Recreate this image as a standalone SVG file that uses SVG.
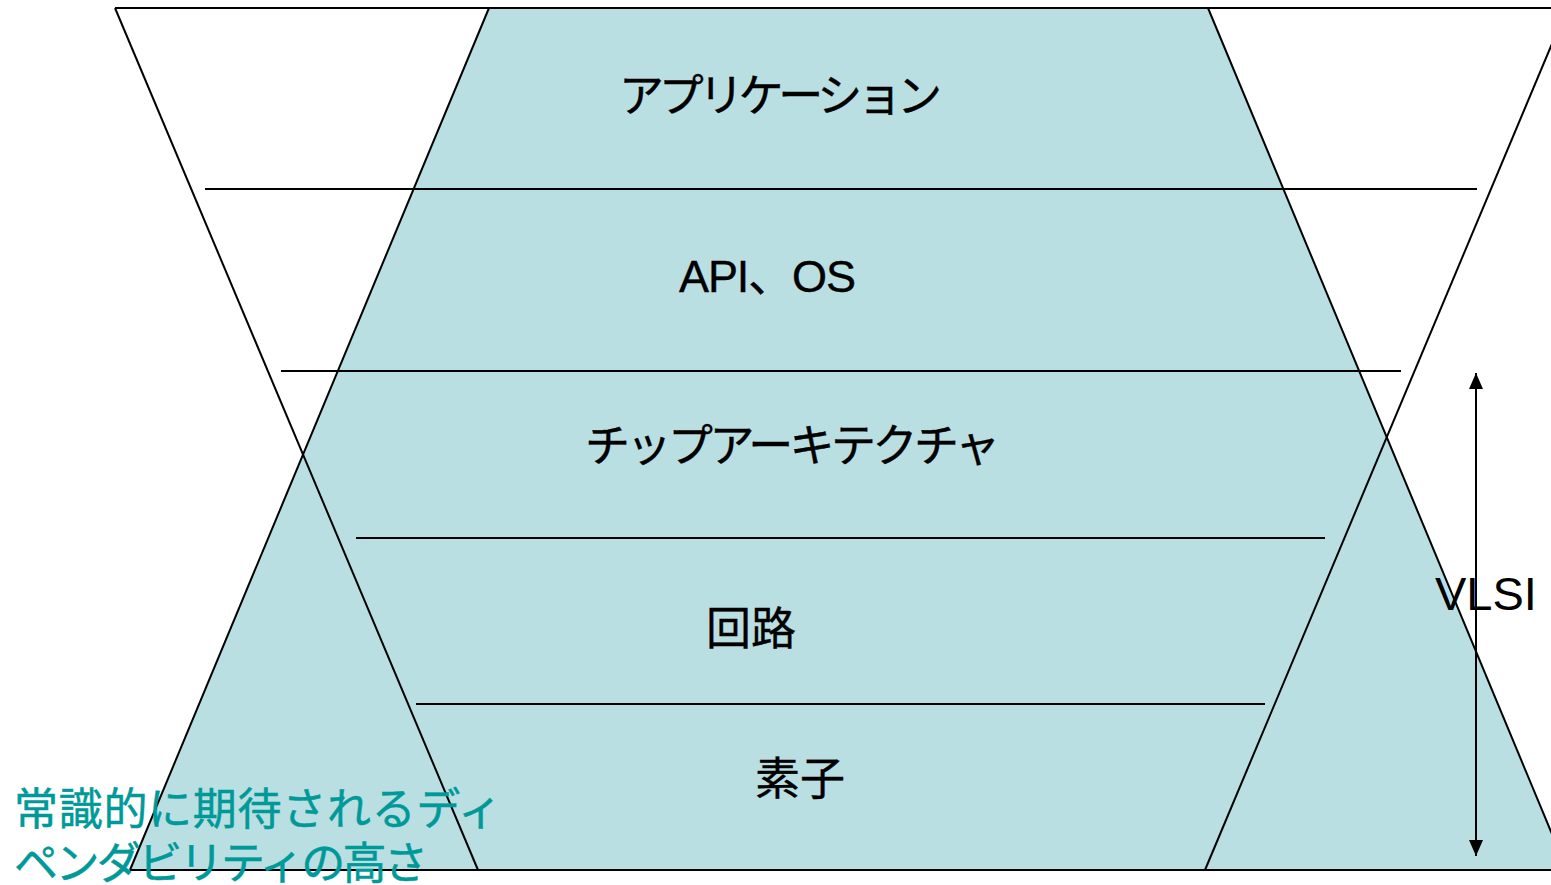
<svg xmlns="http://www.w3.org/2000/svg" width="1551" height="885" viewBox="0 0 1551 885">
<style>
.ln{stroke:#000;stroke-width:2;fill:none}
.jp{font-family:"Liberation Sans","Noto Sans CJK JP",sans-serif;font-size:45px;fill:#000;stroke:#000;stroke-width:0.4}
.teal{font-family:"Liberation Sans","Noto Sans CJK JP",sans-serif;font-size:44px;fill:#009999;stroke:#009999;stroke-width:0.5}
</style>
<defs>
<marker id="ah" viewBox="0 0 16 14" refX="16" refY="7" markerWidth="16" markerHeight="14" markerUnits="userSpaceOnUse" orient="auto-start-reverse">
<path d="M0,0 L16,7 L0,14 z" fill="#000"/>
</marker>
</defs>
<rect width="1551" height="885" fill="#fff"/>
<g id="shapes">
<polygon id="inverted" points="115,8 1567,8 1205,870 478,870" fill="#fff"/>
<polygon id="upright" points="489,8 1208,8 1567,870 130,870" fill="#BADFE3"/>
<line class="ln" x1="489" y1="8" x2="130" y2="870"/>
<line class="ln" x1="1208" y1="8" x2="1567" y2="870"/>
<line class="ln" x1="115" y1="8" x2="478" y2="870"/>
<line class="ln" x1="1567" y1="8" x2="1205" y2="870"/>
<line class="ln" x1="115" y1="8" x2="1551" y2="8"/>
<line class="ln" x1="130" y1="870" x2="1551" y2="870"/>
</g>
<g id="connectors">
<line class="ln" x1="205" y1="189" x2="1477" y2="189"/>
<line class="ln" x1="281" y1="371" x2="1401" y2="371"/>
<line class="ln" x1="356" y1="538" x2="1325" y2="538"/>
<line class="ln" x1="416" y1="704" x2="1265" y2="704"/>
<line class="ln" x1="1476" y1="373" x2="1476" y2="856" marker-start="url(#ah)" marker-end="url(#ah)"/>
</g>
<g id="n-app"><text class="jp" x="619" y="112" textLength="323" lengthAdjust="spacing">アプリケーション</text></g>
<g id="n-api"><text class="jp" x="679" y="292" textLength="177" lengthAdjust="spacing">API、OS</text></g>
<g id="n-chip"><text class="jp" x="585" y="462" textLength="415" lengthAdjust="spacing">チップアーキテクチャ</text></g>
<g id="n-circuit"><text class="jp" x="706" y="645">回路</text></g>
<g id="n-device"><text class="jp" x="755" y="795">素子</text></g>
<g id="n-vlsi"><text x="1435" y="610" style="font-family:'Liberation Sans',sans-serif;font-size:47px;fill:#000">VLSI</text></g>
<g id="n-dep">
<text class="teal" x="14" y="825" textLength="488" lengthAdjust="spacing">常識的に期待されるディ</text>
<text class="teal" x="14" y="879" textLength="414" lengthAdjust="spacing">ペンダビリティの高さ</text>
</g>
</svg>
